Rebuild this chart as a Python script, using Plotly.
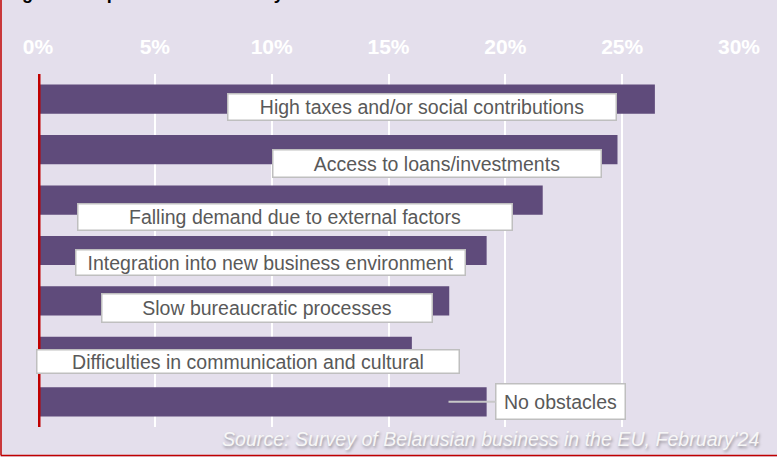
import plotly.graph_objects as go

# Survey results: share of respondents naming each obstacle (%)
categories = [
    "High taxes and/or social contributions",
    "Access to loans/investments",
    "Falling demand due to external factors",
    "Integration into new business environment",
    "Slow bureaucratic processes",
    "Difficulties in communication and cultural",
    "No obstacles",
]
values = [26.4, 24.8, 21.6, 19.2, 17.6, 16.0, 19.2]
tick_values = [0, 5, 10, 15, 20, 25, 30]
tick_labels = ["0%", "5%", "10%", "15%", "20%", "25%", "30%"]
source_text = "Source: Survey of Belarusian business in the EU, February'24"
title_text = "Figure 4. Top obstacles faced by Belarusian businesses in the EU"

W, H = 777, 457
ML, MR, MT, MB = 38, 38, 74, 30
PW, PH = W - ML - MR, H - MT - MB

BG = "#E4DFEC"
BAR = "#5F4B7B"
RED = "#C00000"
SANS = "Liberation Sans, Arial, sans-serif"
LABEL_SIZE = 19.5


def px_x(px):
    return (px - ML) / PW


def px_y(py):
    return 1 - (py - MT) / PH


fig = go.Figure(
    go.Bar(
        x=values,
        y=categories,
        orientation="h",
        marker=dict(color=BAR, line=dict(width=0)),
        width=0.58,
        hoverinfo="x+y",
    )
)

# Callout boxes: (center x px, y shift px, box width, box height)
callouts = [
    (422, -8, 390, 28),
    (437, -14, 330, 29),
    (295, -17, 436, 28),
    (270, -12, 391, 27),
    (267, -7, 332, 30),
    (248, -10, 424, 25),
]
annotations = []
for cat, (cx, ys, bw, bh) in zip(categories, callouts):
    annotations.append(
        dict(
            x=px_x(cx), xref="paper", xanchor="center",
            y=cat, yref="y", yanchor="middle", yshift=ys,
            text=cat, showarrow=False,
            font=dict(family=SANS, size=LABEL_SIZE, color="#595959"),
            bgcolor="white", bordercolor="#BFBFBF", borderwidth=1.5, borderpad=0,
            width=bw - 3, height=bh - 3, align="center", valign="middle",
        )
    )

# "No obstacles" callout with a pointer to its bar
annotations.append(
    dict(
        x=values[6] * 0.915, xref="x", y=categories[6], yref="y",
        ax=112, ay=0, axref="pixel", ayref="pixel",
        text=categories[6], showarrow=True, arrowhead=0, arrowwidth=2,
        arrowcolor="#C8C8C8",
        font=dict(family=SANS, size=LABEL_SIZE, color="#595959"),
        bgcolor="white", bordercolor="#BFBFBF", borderwidth=1.5, borderpad=0,
        width=128, height=34, align="center", valign="middle",
    )
)

# Source note
annotations.append(
    dict(
        x=px_x(762), xref="paper", y=px_y(439), yref="paper",
        xanchor="right", yanchor="middle", showarrow=False,
        text=source_text,
        font=dict(family=SANS, size=19.6, color="#F7F7F7", style="italic",
                  shadow="1px 2px 3px rgba(0,0,0,0.35)"),
    )
)

# Figure title, mostly above the visible frame
annotations.append(
    dict(
        x=px_x(4), xref="paper", y=px_y(5), yref="paper",
        xanchor="left", yanchor="bottom", showarrow=False,
        text="<b>" + title_text + "</b>",
        font=dict(family=SANS, size=18, color="black"),
    )
)

shapes = [
    # red vertical axis at 0%
    dict(type="line", xref="x", yref="paper", x0=0, x1=0, y0=0, y1=1,
         line=dict(color=RED, width=5), layer="above"),
    # red frame (left and bottom edges)
    dict(type="line", xref="paper", yref="paper",
         x0=px_x(1), x1=px_x(1), y0=px_y(0), y1=px_y(455.5),
         line=dict(color=RED, width=1.5), layer="above"),
    dict(type="line", xref="paper", yref="paper",
         x0=px_x(1), x1=px_x(W + 5), y0=px_y(455.5), y1=px_y(455.5),
         line=dict(color=RED, width=1.5), layer="above"),
]

fig.update_layout(
    width=W, height=H,
    margin=dict(l=ML, r=MR, t=MT, b=MB, pad=0),
    paper_bgcolor=BG, plot_bgcolor=BG,
    showlegend=False,
    bargap=0.42,
    annotations=annotations,
    shapes=shapes,
    xaxis=dict(
        range=[0, 30], side="top",
        tickvals=tick_values, ticktext=tick_labels,
        tickfont=dict(family=SANS, size=21, color="white", weight="bold"),
        ticks="outside", ticklen=11, tickcolor="rgba(0,0,0,0)",
        showgrid=True, gridcolor="white", gridwidth=1.5,
        zeroline=False, showline=False, fixedrange=True,
    ),
    yaxis=dict(
        autorange="reversed", showticklabels=False, showgrid=False,
        zeroline=False, showline=False, ticks="", fixedrange=True,
    ),
)

fig.write_html("out.html")
